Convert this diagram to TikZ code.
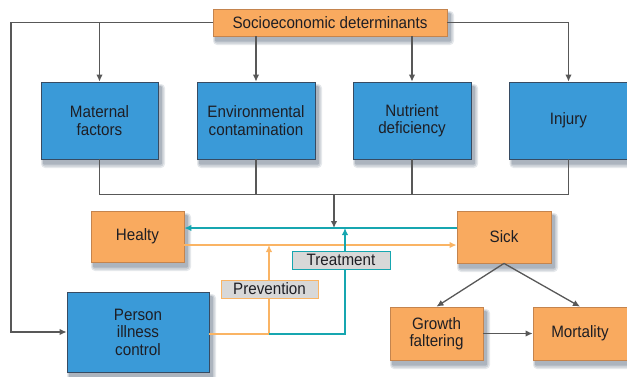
\documentclass[tikz,border=0pt]{standalone}
\usepackage{fontspec}
\setmainfont[FakeStretch=0.92]{Liberation Sans}
\usetikzlibrary{arrows.meta}
\definecolor{boxorange}{RGB}{249,170,95}
\definecolor{edgeorange}{RGB}{196,132,78}
\definecolor{boxblue}{RGB}{58,154,216}
\definecolor{edgeblue}{RGB}{55,75,98}
\definecolor{linkgray}{RGB}{88,88,88}
\definecolor{careteal}{RGB}{22,166,176}
\definecolor{careorange}{RGB}{250,180,100}
\definecolor{tagfill}{RGB}{216,216,216}
\definecolor{inkdark}{RGB}{30,30,36}
\definecolor{shadowtone}{RGB}{70,88,110}
% a box with a soft drop shadow: name, style, centre x, centre y, width, height, text
\newcommand\placebox[7]{%
  \fill[shadowtone!14, rounded corners=4pt]
    ({#3-#5/2}, {#4-#6/2+2}) rectangle ({#3+#5/2+7}, {#4+#6/2+9});
  \fill[shadowtone!28, rounded corners=3pt]
    ({#3-#5/2+1}, {#4-#6/2+3}) rectangle ({#3+#5/2+5.5}, {#4+#6/2+7.5});
  \fill[shadowtone!45, rounded corners=1pt]
    ({#3-#5/2+2}, {#4-#6/2+4}) rectangle ({#3+#5/2+4}, {#4+#6/2+5.5});
  \node[#2, minimum width=#5 pt, minimum height=#6 pt] (#1) at (#3,#4) {#7};
}
\begin{document}
\begin{tikzpicture}[x=1pt,y=-1pt,
  every node/.style={font=\fontsize{16.5}{17.5}\selectfont, align=center, inner sep=0pt, text=inkdark},
  obox/.style={draw=edgeorange, fill=boxorange, line width=0.8pt},
  bbox/.style={draw=edgeblue, fill=boxblue, line width=0.8pt},
  tag/.style={fill=tagfill, line width=1pt, minimum width=#1, minimum height=18pt},
  gline/.style={draw=linkgray, line width=1.3pt},
  garrow/.style={gline, -{Latex[length=7pt,width=6.5pt]}},
  tarrow/.style={draw=careteal, line width=1.6pt, -{Latex[length=7pt,width=6.5pt]}},
  oarrow/.style={draw=careorange, line width=1.4pt, -{Latex[length=7pt,width=6.5pt]}}
]
\useasboundingbox (0,0) rectangle (627,376);

% boxes
\placebox{soc}{obox}{330}{22.5}{234}{27}{Socioeconomic determinants}
\placebox{mat}{bbox}{99.5}{120.5}{117}{77}{Maternal\\factors}
\placebox{env}{bbox}{256}{120.5}{118}{77}{Environmental\\contamination}
\placebox{nut}{bbox}{412}{120.5}{118}{77}{Nutrient\\deficiency}
\placebox{inj}{bbox}{568.5}{120.5}{118}{77}{Injury}
\placebox{heal}{obox}{137.5}{236.5}{93}{51}{Healty}
\placebox{sick}{obox}{504}{237}{94}{52}{Sick}
\placebox{person}{bbox}{138}{332}{142}{80}{Person\\illness\\control}
\placebox{grow}{obox}{436.5}{333.5}{93}{53}{Growth\\faltering}
\placebox{mort}{obox}{580}{333.5}{94}{53}{Mortality}

% helper coordinates for the routed lines
\coordinate (leftrun) at (11,0);
\coordinate (bus) at (334,194.5);
\coordinate (tealrow) at (0,228);
\coordinate (orow) at (0,245);
\coordinate (feed) at (0,334);
\coordinate (pvx) at (269,0);
\coordinate (txx) at (345,0);

% determinants
\draw[garrow] (soc.west) -| (leftrun |- person.west) -- (person.west);
\draw[garrow] (soc.west -| mat.north) -- (mat.north);
\draw[garrow] (soc.south -| env.north) -- (env.north);
\draw[garrow] (soc.south -| nut.north) -- (nut.north);
\draw[garrow] (soc.east) -| (inj.north);

% collecting bus
\draw[gline] (mat.south) |- (bus -| inj.south) -- (inj.south);
\draw[gline] (env.south) -- (env.south |- bus);
\draw[gline] (nut.south) -- (nut.south |- bus);
\draw[garrow] (bus) -- (bus |- tealrow);

% health state transitions
\draw[tarrow] (sick.west |- tealrow) -- (heal.east |- tealrow);
\draw[oarrow] (heal.east |- orow) -- (sick.west |- orow);
\draw[oarrow] (person.east |- feed) -| (pvx |- orow);
\draw[tarrow] (pvx |- feed) -| (txx |- tealrow);

% outcomes
\draw[garrow] (sick.south) -- (grow.north);
\draw[garrow] (sick.south) -- (mort.north);
\draw[garrow] (grow.east) -- (mort.west);

% intervention tags
\node[tag=98pt, draw=careteal] (treat) at (341,260) {Treatment};
\node[tag=97pt, draw=careorange] (prev) at (269.5,289) {Prevention};
\end{tikzpicture}
\end{document}
